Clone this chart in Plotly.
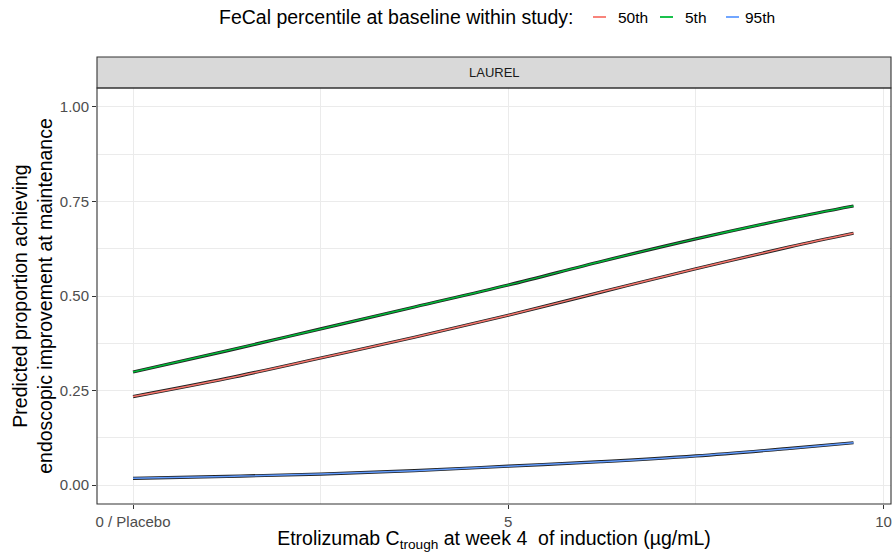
import plotly.graph_objects as go

# Data
x_vals = [0, 1.25, 2.5, 3.75, 5, 6.25, 7.5, 8.75, 9.6]
fecal_50 = [0.234, 0.282, 0.336, 0.391, 0.449, 0.511, 0.572, 0.630, 0.666]
fecal_5 = [0.299, 0.355, 0.413, 0.471, 0.529, 0.592, 0.651, 0.705, 0.738]
fecal_95 = [0.018, 0.023, 0.029, 0.038, 0.050, 0.062, 0.077, 0.097, 0.112]

series_names = ["50th", "5th", "95th"]
series_vals = [fecal_50, fecal_5, fecal_95]
series_colors = ["#F8766D", "#00BA38", "#619CFF"]

x_ticks = [0, 5, 10]
x_ticklabels = ["0 / Placebo", "5", "10"]
y_ticks = [0, 0.25, 0.5, 0.75, 1.0]
y_ticklabels = ["0.00", "0.25", "0.50", "0.75", "1.00"]

legend_title = "FeCal percentile at baseline within study:"

FONT = "Liberation Sans, Arial, Helvetica, sans-serif"

L, R, T, B, W, H = 97, 2, 88, 48, 893, 552
PW, PH = W - L - R, H - T - B


def px_x(p):
    return (p - L) / PW


def px_y(p):
    return (H - B - p) / PH


fig = go.Figure()
for name, vals, col in zip(series_names, series_vals, series_colors):
    fig.add_trace(go.Scatter(x=x_vals, y=vals, mode="lines", line=dict(color="#222222", width=3.2, shape="spline"),
                             showlegend=False, hoverinfo="skip"))
for name, vals, col in zip(series_names, series_vals, series_colors):
    fig.add_trace(go.Scatter(x=x_vals, y=vals, mode="lines", name=name, showlegend=False,
                             line=dict(color=col, width=1.5, shape="spline")))

strip_h = 31 / PH
fig.add_shape(type="rect", xref="paper", yref="paper", x0=0, x1=1, y0=1, y1=1 + strip_h,
              fillcolor="#D9D9D9", line=dict(color="#333333", width=1.1), layer="above")
fig.add_shape(type="rect", xref="paper", yref="paper", x0=0, x1=1, y0=0, y1=1,
              fillcolor="rgba(0,0,0,0)", line=dict(color="#333333", width=1.1), layer="above")
fig.add_annotation(text="LAUREL", xref="paper", yref="paper", x=0.5, y=1 + strip_h / 2,
                   showarrow=False, font=dict(size=13, color="#1A1A1A", family=FONT),
                   xanchor="center", yanchor="middle")

# Legend (drawn at the top, ggplot-style)
ly = px_y(17)
fig.add_annotation(text=legend_title, xref="paper", yref="paper", x=px_x(217), y=ly,
                   showarrow=False, xanchor="left", yanchor="middle",
                   font=dict(size=19.5, family=FONT, color="#000000"))
key_x = [593, 660, 726]
lab_x = [616, 683, 743]
for name, col, kx, lx in zip(series_names, series_colors, key_x, lab_x):
    fig.add_shape(type="line", xref="paper", yref="paper", x0=px_x(kx), x1=px_x(kx + 13), y0=ly, y1=ly,
                  line=dict(color=col, width=1.8))
    fig.add_annotation(text=name, xref="paper", yref="paper", x=px_x(lx), y=ly,
                       showarrow=False, xanchor="left", yanchor="middle",
                       font=dict(size=15.5, family=FONT, color="#000000"))

fig.update_layout(
    width=W, height=H,
    margin=dict(l=L, r=R, t=T, b=B, autoexpand=False),
    paper_bgcolor="white", plot_bgcolor="white",
    font=dict(family=FONT, color="#000000"),
    showlegend=False,
    xaxis=dict(range=[-0.48, 10.1], tickmode="array", tickvals=x_ticks, ticktext=x_ticklabels,
               showgrid=True, gridcolor="#EBEBEB", gridwidth=1.1, zeroline=False, automargin=False,
               ticks="outside", ticklen=4, tickcolor="#333333", tickwidth=1.1,
               tickfont=dict(size=15, color="#4D4D4D", family=FONT),
               minor=dict(tickmode="array", tickvals=[2.5, 7.5], showgrid=True, gridcolor="#EBEBEB",
                          gridwidth=0.55, ticks=""),
               title=dict(text="Etrolizumab C<sub>trough</sub> at week 4  of induction (µg/mL)",
                          font=dict(size=19.5, family=FONT), standoff=8)),
    yaxis=dict(range=[-0.05, 1.05], tickmode="array", tickvals=y_ticks, ticktext=y_ticklabels,
               showgrid=True, gridcolor="#EBEBEB", gridwidth=1.1, zeroline=False, automargin=False,
               ticks="outside", ticklen=4, tickcolor="#333333", tickwidth=1.1,
               tickfont=dict(size=15, color="#4D4D4D", family=FONT),
               minor=dict(tickmode="array", tickvals=[0.125, 0.375, 0.625, 0.875], showgrid=True,
                          gridcolor="#EBEBEB", gridwidth=0.55, ticks=""),
               title=dict(text="Predicted proportion achieving<br>endoscopic improvement at maintenance",
                          font=dict(size=19.5, family=FONT), standoff=1)),
)

fig.write_html("out.html", config={"displayModeBar": False},
               post_script="document.body.style.margin='0';")
